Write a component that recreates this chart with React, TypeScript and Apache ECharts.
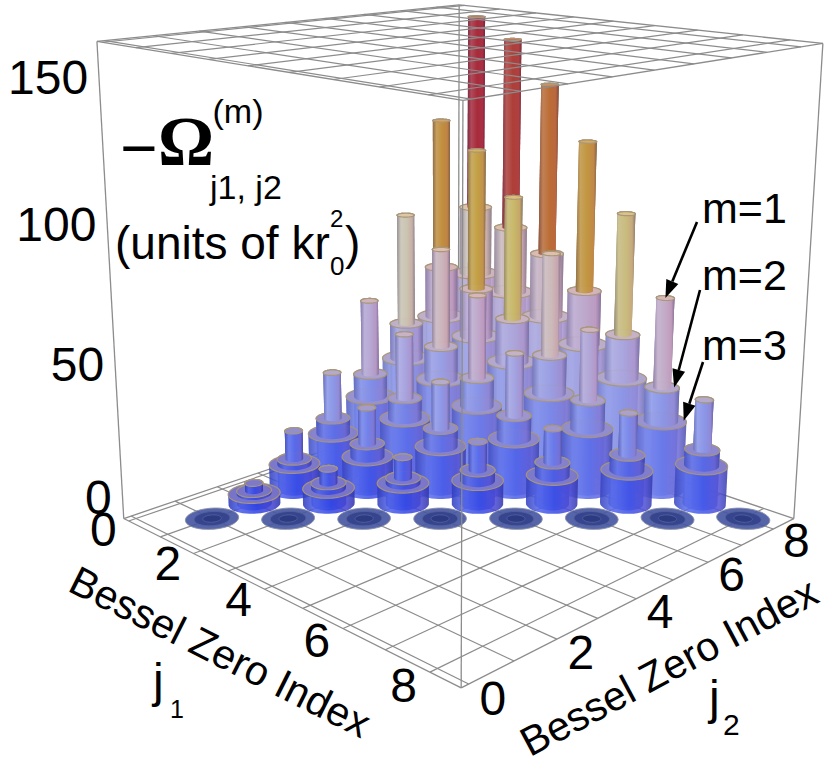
import React, { useEffect, useRef } from "react";
import * as echarts from "echarts";

// ---------------- data ----------------
const jIndex = [1, 2, 3, 4, 5, 6, 7, 8];
// -Omega values (units of k r0^2); row r is j1 = jIndex[r], entries are j2 = j1 ... 8
const omegaM1 = [
  [0, 8, 23, 41, 65, 95, 129, 167],
  [0, 13.5, 32, 56, 85, 120, 160],
  [0, 18, 42, 71, 105, 145],
  [0, 24, 53, 87, 126],
  [0, 29, 62, 102],
  [0, 35, 74],
  [0, 40],
  [0],
];
const omegaM2 = [
  [0, 5, 12, 23, 36, 52, 71, 92],
  [0, 8, 18, 31, 47, 66, 87],
  [0, 10, 24, 39, 58, 80],
  [0, 13, 29, 48, 69],
  [0, 16, 35, 56],
  [0, 19, 40],
  [0, 21],
  [0],
];
const omegaM3 = [
  [0, 4, 10, 17, 27, 38, 51, 65],
  [0, 6, 13, 23, 34, 47, 61],
  [0, 8, 17, 28, 41, 55],
  [0, 9, 20, 33, 48],
  [0, 11, 24, 39],
  [0, 13, 27],
  [0, 15],
  [0],
];
const zTicks = [0, 50, 100, 150];
const jTicks = [0, 2, 4, 6, 8];
const gridLines = [0, 1, 2, 3, 4, 5, 6, 7, 8];
const mLabels = ["m=1", "m=2", "m=3"];
const annotatedCell = [6, 8];
const axisTitle = "Bessel Zero Index";

// ---------------- view (3D box -> screen) ----------------
const J_LO = -0.16;
const J_HI = 8.67;
const Z_HI = 169;
const RADII = [0.17, 0.33, 0.49];
const CUBE = [
  [0, 0, 0], [1, 0, 0], [1, 1, 0], [0, 1, 0],
  [0, 0, 1], [1, 0, 1], [1, 1, 1], [0, 1, 1],
];
const CUBE_PX = [
  [123, 519], [462, 687], [793, 520], [459, 404],
  [97, 42], [463, 100], [823, 43], [459, 5],
];

function solveCamera(): number[] {
  const A: number[][] = [];
  const b: number[] = [];
  CUBE.forEach(([X, Y, Z], i) => {
    const [x, y] = CUBE_PX[i];
    A.push([X, Y, Z, 1, 0, 0, 0, 0, -x * X, -x * Y, -x * Z]);
    b.push(x);
    A.push([0, 0, 0, 0, X, Y, Z, 1, -y * X, -y * Y, -y * Z]);
    b.push(y);
  });
  const n = 11;
  const M: number[][] = [];
  for (let i = 0; i < n; i++) {
    const row = new Array(n + 1).fill(0);
    for (let j = 0; j < n; j++) for (let k = 0; k < A.length; k++) row[j] += A[k][i] * A[k][j];
    for (let k = 0; k < A.length; k++) row[n] += A[k][i] * b[k];
    M.push(row);
  }
  for (let c = 0; c < n; c++) {
    let p = c;
    for (let r = c + 1; r < n; r++) if (Math.abs(M[r][c]) > Math.abs(M[p][c])) p = r;
    const tmp = M[c]; M[c] = M[p]; M[p] = tmp;
    for (let r = 0; r < n; r++) {
      if (r === c) continue;
      const f = M[r][c] / M[c][c];
      for (let k = c; k <= n; k++) M[r][k] -= f * M[c][k];
    }
  }
  return M.map((row, i) => row[n] / row[i]);
}
const CAM = solveCamera();

function project(j1: number, j2: number, z: number): number[] {
  const X = (j1 - J_LO) / (J_HI - J_LO);
  const Y = (j2 - J_LO) / (J_HI - J_LO);
  const Z = z / Z_HI;
  const w = CAM[8] * X + CAM[9] * Y + CAM[10] * Z + 1;
  return [
    (CAM[0] * X + CAM[1] * Y + CAM[2] * Z + CAM[3]) / w,
    (CAM[4] * X + CAM[5] * Y + CAM[6] * Z + CAM[7]) / w,
  ];
}

function hull(pts: number[][]): number[][] {
  const p = pts.slice().sort((a, b) => a[0] - b[0] || a[1] - b[1]);
  const cross = (o: number[], a: number[], c: number[]) =>
    (a[0] - o[0]) * (c[1] - o[1]) - (a[1] - o[1]) * (c[0] - o[0]);
  const lower: number[][] = [];
  for (const q of p) {
    while (lower.length >= 2 && cross(lower[lower.length - 2], lower[lower.length - 1], q) <= 0) lower.pop();
    lower.push(q);
  }
  const upper: number[][] = [];
  for (let i = p.length - 1; i >= 0; i--) {
    const q = p[i];
    while (upper.length >= 2 && cross(upper[upper.length - 2], upper[upper.length - 1], q) <= 0) upper.pop();
    upper.push(q);
  }
  upper.pop();
  lower.pop();
  return lower.concat(upper);
}

// ---------------- colours ----------------
const COLOR_STOPS: [number, string][] = [
  [0, "#2a3ee0"], [10, "#384ce6"], [20, "#4e62ea"], [30, "#6c7cea"], [40, "#8a96e8"],
  [55, "#a6a4e0"], [70, "#bea8cc"], [85, "#ccb6bc"], [95, "#cbc4b0"], [105, "#c8b868"],
  [120, "#c4a044"], [135, "#c08438"], [148, "#ba6634"], [158, "#b04436"], [168, "#a6283a"],
];
function hexRgb(h: string): number[] {
  const n = parseInt(h.slice(1), 16);
  return [(n >> 16) & 255, (n >> 8) & 255, n & 255];
}
function mix(a: number[], b: number[], t: number): number[] {
  return a.map((v, i) => v + (b[i] - v) * t);
}
function rgb(c: number[]): string {
  return `rgb(${c.map((v) => Math.round(Math.max(0, Math.min(255, v)))).join(",")})`;
}
function valueColor(v: number): number[] {
  if (v <= COLOR_STOPS[0][0]) return hexRgb(COLOR_STOPS[0][1]);
  for (let i = 1; i < COLOR_STOPS.length; i++) {
    if (v <= COLOR_STOPS[i][0]) {
      const [v0, c0] = COLOR_STOPS[i - 1];
      const [v1, c1] = COLOR_STOPS[i];
      return mix(hexRgb(c0), hexRgb(c1), (v - v0) / (v1 - v0));
    }
  }
  return hexRgb(COLOR_STOPS[COLOR_STOPS.length - 1][1]);
}
function shade(base: number[]) {
  return new echarts.graphic.LinearGradient(0, 0, 1, 0, [
    { offset: 0, color: rgb(mix(base, [30, 30, 90], 0.3)) },
    { offset: 0.22, color: rgb(mix(base, [225, 235, 255], 0.16)) },
    { offset: 0.55, color: rgb(base) },
    { offset: 0.85, color: rgb(mix(base, [180, 70, 120], 0.16)) },
    { offset: 1, color: rgb(mix(base, [40, 20, 70], 0.38)) },
  ]);
}

// ---------------- cylinders ----------------
const SIDES = 44;
function ring(j1: number, j2: number, r: number, z: number): number[][] {
  const out: number[][] = [];
  for (let k = 0; k < SIDES; k++) {
    const t = (2 * Math.PI * k) / SIDES;
    out.push(project(j1 + r * Math.cos(t), j2 + r * Math.sin(t), z));
  }
  return out;
}
function piece(j1: number, j2: number, r: number, z0: number, z1: number, val: number, alpha: number) {
  const base = valueColor(val);
  const top = ring(j1, j2, r, z1);
  const body = hull(ring(j1, j2, r, z0).concat(top));
  return [
    { type: "polygon", shape: { points: body }, style: { fill: shade(base), opacity: alpha } },
    {
      type: "polygon",
      shape: { points: top },
      style: { fill: rgb(mix(base, [255, 205, 150], 0.36)), stroke: "#a8977a", lineWidth: 1.2, opacity: Math.min(1, alpha + 0.08) },
    },
  ];
}
function disk(j1: number, j2: number) {
  const fills = ["#4858a2", "#33428c", "#2b3980"];
  return [RADII[2], RADII[1], RADII[0]].map((r, i) => ({
    type: "polygon",
    shape: { points: ring(j1, j2, r, 0) },
    style: { fill: fills[i], stroke: i === 0 ? "#8a90a8" : "#52609c", lineWidth: 1, opacity: 0.92 },
  }));
}
function stack(j1: number, j2: number, h: number[]) {
  const [h1, h2, h3] = h;
  if (h1 <= 0 && h2 <= 0 && h3 <= 0) return disk(j1, j2);
  const inner = 0.95;
  const outer = 0.87;
  return [
    ...piece(j1, j2, RADII[0], 0, h1, h1, inner),
    ...piece(j1, j2, RADII[1], 0, h2, h2, outer),
    ...piece(j1, j2, RADII[0], h2, h1, h1, inner),
    ...piece(j1, j2, RADII[2], 0, h3, h3, outer),
    ...piece(j1, j2, RADII[1], h3, h2, h2, outer),
    ...piece(j1, j2, RADII[0], h2, h1, h1, inner),
  ];
}

// ---------------- frame ----------------
const LINE = "#8c8c8c";
function seg(p: number[], q: number[], w = 1.3, color = LINE) {
  return { type: "line", shape: { x1: p[0], y1: p[1], x2: q[0], y2: q[1] }, style: { stroke: color, lineWidth: w } };
}
function faceGrid(z: number) {
  const out: any[] = [];
  gridLines.forEach((g) => {
    out.push(seg(project(g, J_LO, z), project(g, J_HI, z), 1.2));
    out.push(seg(project(J_LO, g, z), project(J_HI, g, z), 1.2));
  });
  return out;
}
function backFrame() {
  const L = project(J_LO, J_LO, 0), B = project(J_LO, J_HI, 0), R = project(J_HI, J_HI, 0);
  const Lt = project(J_LO, J_LO, Z_HI), Bt = project(J_LO, J_HI, Z_HI), Rt = project(J_HI, J_HI, Z_HI);
  return [...faceGrid(0), seg(L, B), seg(B, R), seg(B, Bt), seg(L, Lt), seg(R, Rt)];
}
function frontFrame() {
  const L = project(J_LO, J_LO, 0), F = project(J_HI, J_LO, 0), R = project(J_HI, J_HI, 0);
  const Lt = project(J_LO, J_LO, Z_HI), Ft = project(J_HI, J_LO, Z_HI);
  const Rt = project(J_HI, J_HI, Z_HI), Bt = project(J_LO, J_HI, Z_HI);
  return [
    seg(L, F), seg(F, R), seg(F, Ft),
    ...faceGrid(Z_HI),
    seg(Lt, Ft), seg(Ft, Rt), seg(Rt, Bt), seg(Bt, Lt),
  ];
}

// ---------------- texts ----------------
const SANS = '"Liberation Sans", Arial, Helvetica, sans-serif';
const SERIF = '"Liberation Serif", "Times New Roman", serif';
function txt(text: string, x: number, y: number, size: number, o: any = {}) {
  return {
    type: "text",
    x,
    y,
    z: 100,
    rotation: o.rot || 0,
    silent: true,
    style: {
      text,
      font: `${o.weight || "normal"} ${size}px ${o.family || SANS}`,
      fill: "#000",
      align: o.align || "left",
      verticalAlign: "middle",
    },
  };
}
function arrow(from: number[], to: number[]) {
  const dx = to[0] - from[0], dy = to[1] - from[1];
  const len = Math.hypot(dx, dy);
  const ux = dx / len, uy = dy / len;
  const hl = 18, hw = 6.5;
  const bx = to[0] - ux * hl, by = to[1] - uy * hl;
  return [
    { type: "line", z: 100, silent: true, shape: { x1: from[0], y1: from[1], x2: bx, y2: by }, style: { stroke: "#000", lineWidth: 2.6 } },
    {
      type: "polygon", z: 100, silent: true,
      shape: { points: [to, [bx - uy * hw, by + ux * hw], [bx + uy * hw, by - ux * hw]] },
      style: { fill: "#000" },
    },
  ];
}

function buildOption() {
  const cells: number[][] = [];
  jIndex.forEach((j1, r) => {
    omegaM1[r].forEach((v1, c) => {
      cells.push([j1, jIndex[r + c], v1, omegaM2[r][c], omegaM3[r][c]]);
    });
  });
  const ordered = cells.slice().sort((a, b) => b[1] - b[0] - (a[1] - a[0]) || a[0] + a[1] - (b[0] + b[1]));

  const texts: any[] = [];
  zTicks.forEach((z) => {
    const p = project(J_LO, J_LO, z);
    texts.push(txt(String(z), p[0] - 12, p[1] - 21, 48, { align: "right" }));
  });
  jTicks.forEach((k) => {
    const p = project(k, J_LO - 0.55, 0);
    texts.push(txt(String(k), p[0], p[1], 48, { align: "center" }));
    const q = project(J_HI + 0.5, k, 0);
    texts.push(txt(String(k), q[0], q[1] + 3, 48, { align: "center" }));
  });
  texts.push(txt(axisTitle, 220, 652, 41, { align: "center", rot: -0.466 }));
  texts.push(txt(axisTitle, 669, 667, 41, { align: "center", rot: 0.492 }));
  texts.push(txt("j", 153, 680, 48));
  texts.push(txt("1", 170, 709, 25));
  texts.push(txt("j", 709, 697, 48));
  texts.push(txt("2", 723, 724, 30));
  // vertical quantity label
  texts.push(txt("\u2212", 139, 148, 64, { align: "center" }));
  texts.push(txt("\u03A9", 186, 141, 70, { align: "center", weight: "bold", family: SERIF }));
  texts.push(txt("(m)", 238, 111, 34, { align: "center" }));
  texts.push(txt("j1, j2", 210, 187, 34));
  texts.push(txt("(units of kr", 115, 243, 46));
  texts.push(txt("2", 330, 218, 24));
  texts.push(txt("0", 330, 266, 26));
  texts.push(txt(")", 345, 243, 46));

  // m annotations pointing at the annotated stack
  const cell = cells.find((c) => c[0] === annotatedCell[0] && c[1] === annotatedCell[1])!;
  const labelY = [208, 275, 345];
  const tipFrac = [0, 0.7, 0.9];
  const starts = [[697, 222], [700, 290], [703, 362]];
  mLabels.forEach((lab, i) => {
    texts.push(txt(lab, 702, labelY[i], 43));
    const off = RADII[i] * tipFrac[i] * Math.SQRT1_2;
    const tip = project(cell[0] + off, cell[1] + off, cell[2 + i]);
    texts.push(...arrow(starts[i], tip));
  });

  return {
    animation: false,
    backgroundColor: "#ffffff",
    series: [
      {
        type: "custom", coordinateSystem: "none", z: 1, silent: true, data: [[0]],
        renderItem: () => ({ type: "group", children: backFrame() }),
      },
      {
        type: "custom", coordinateSystem: "none", z: 2, silent: true, data: ordered,
        renderItem: (_p: any, api: any) => ({
          type: "group",
          children: stack(api.value(0), api.value(1), [api.value(2), api.value(3), api.value(4)]),
        }),
      },
      {
        type: "custom", coordinateSystem: "none", z: 3, silent: true, data: [[0]],
        renderItem: () => ({ type: "group", children: frontFrame() }),
      },
    ],
    graphic: { elements: texts },
  };
}

export default function App() {
  const ref = useRef<HTMLDivElement>(null);
  useEffect(() => {
    const chart = echarts.init(ref.current!, undefined, { renderer: "svg" });
    chart.setOption(buildOption() as any);
    return () => chart.dispose();
  }, []);
  return (
    <div
      ref={ref}
      style={{ position: "fixed", left: 0, top: 0, width: 830, height: 771, background: "#ffffff" }}
    />
  );
}
